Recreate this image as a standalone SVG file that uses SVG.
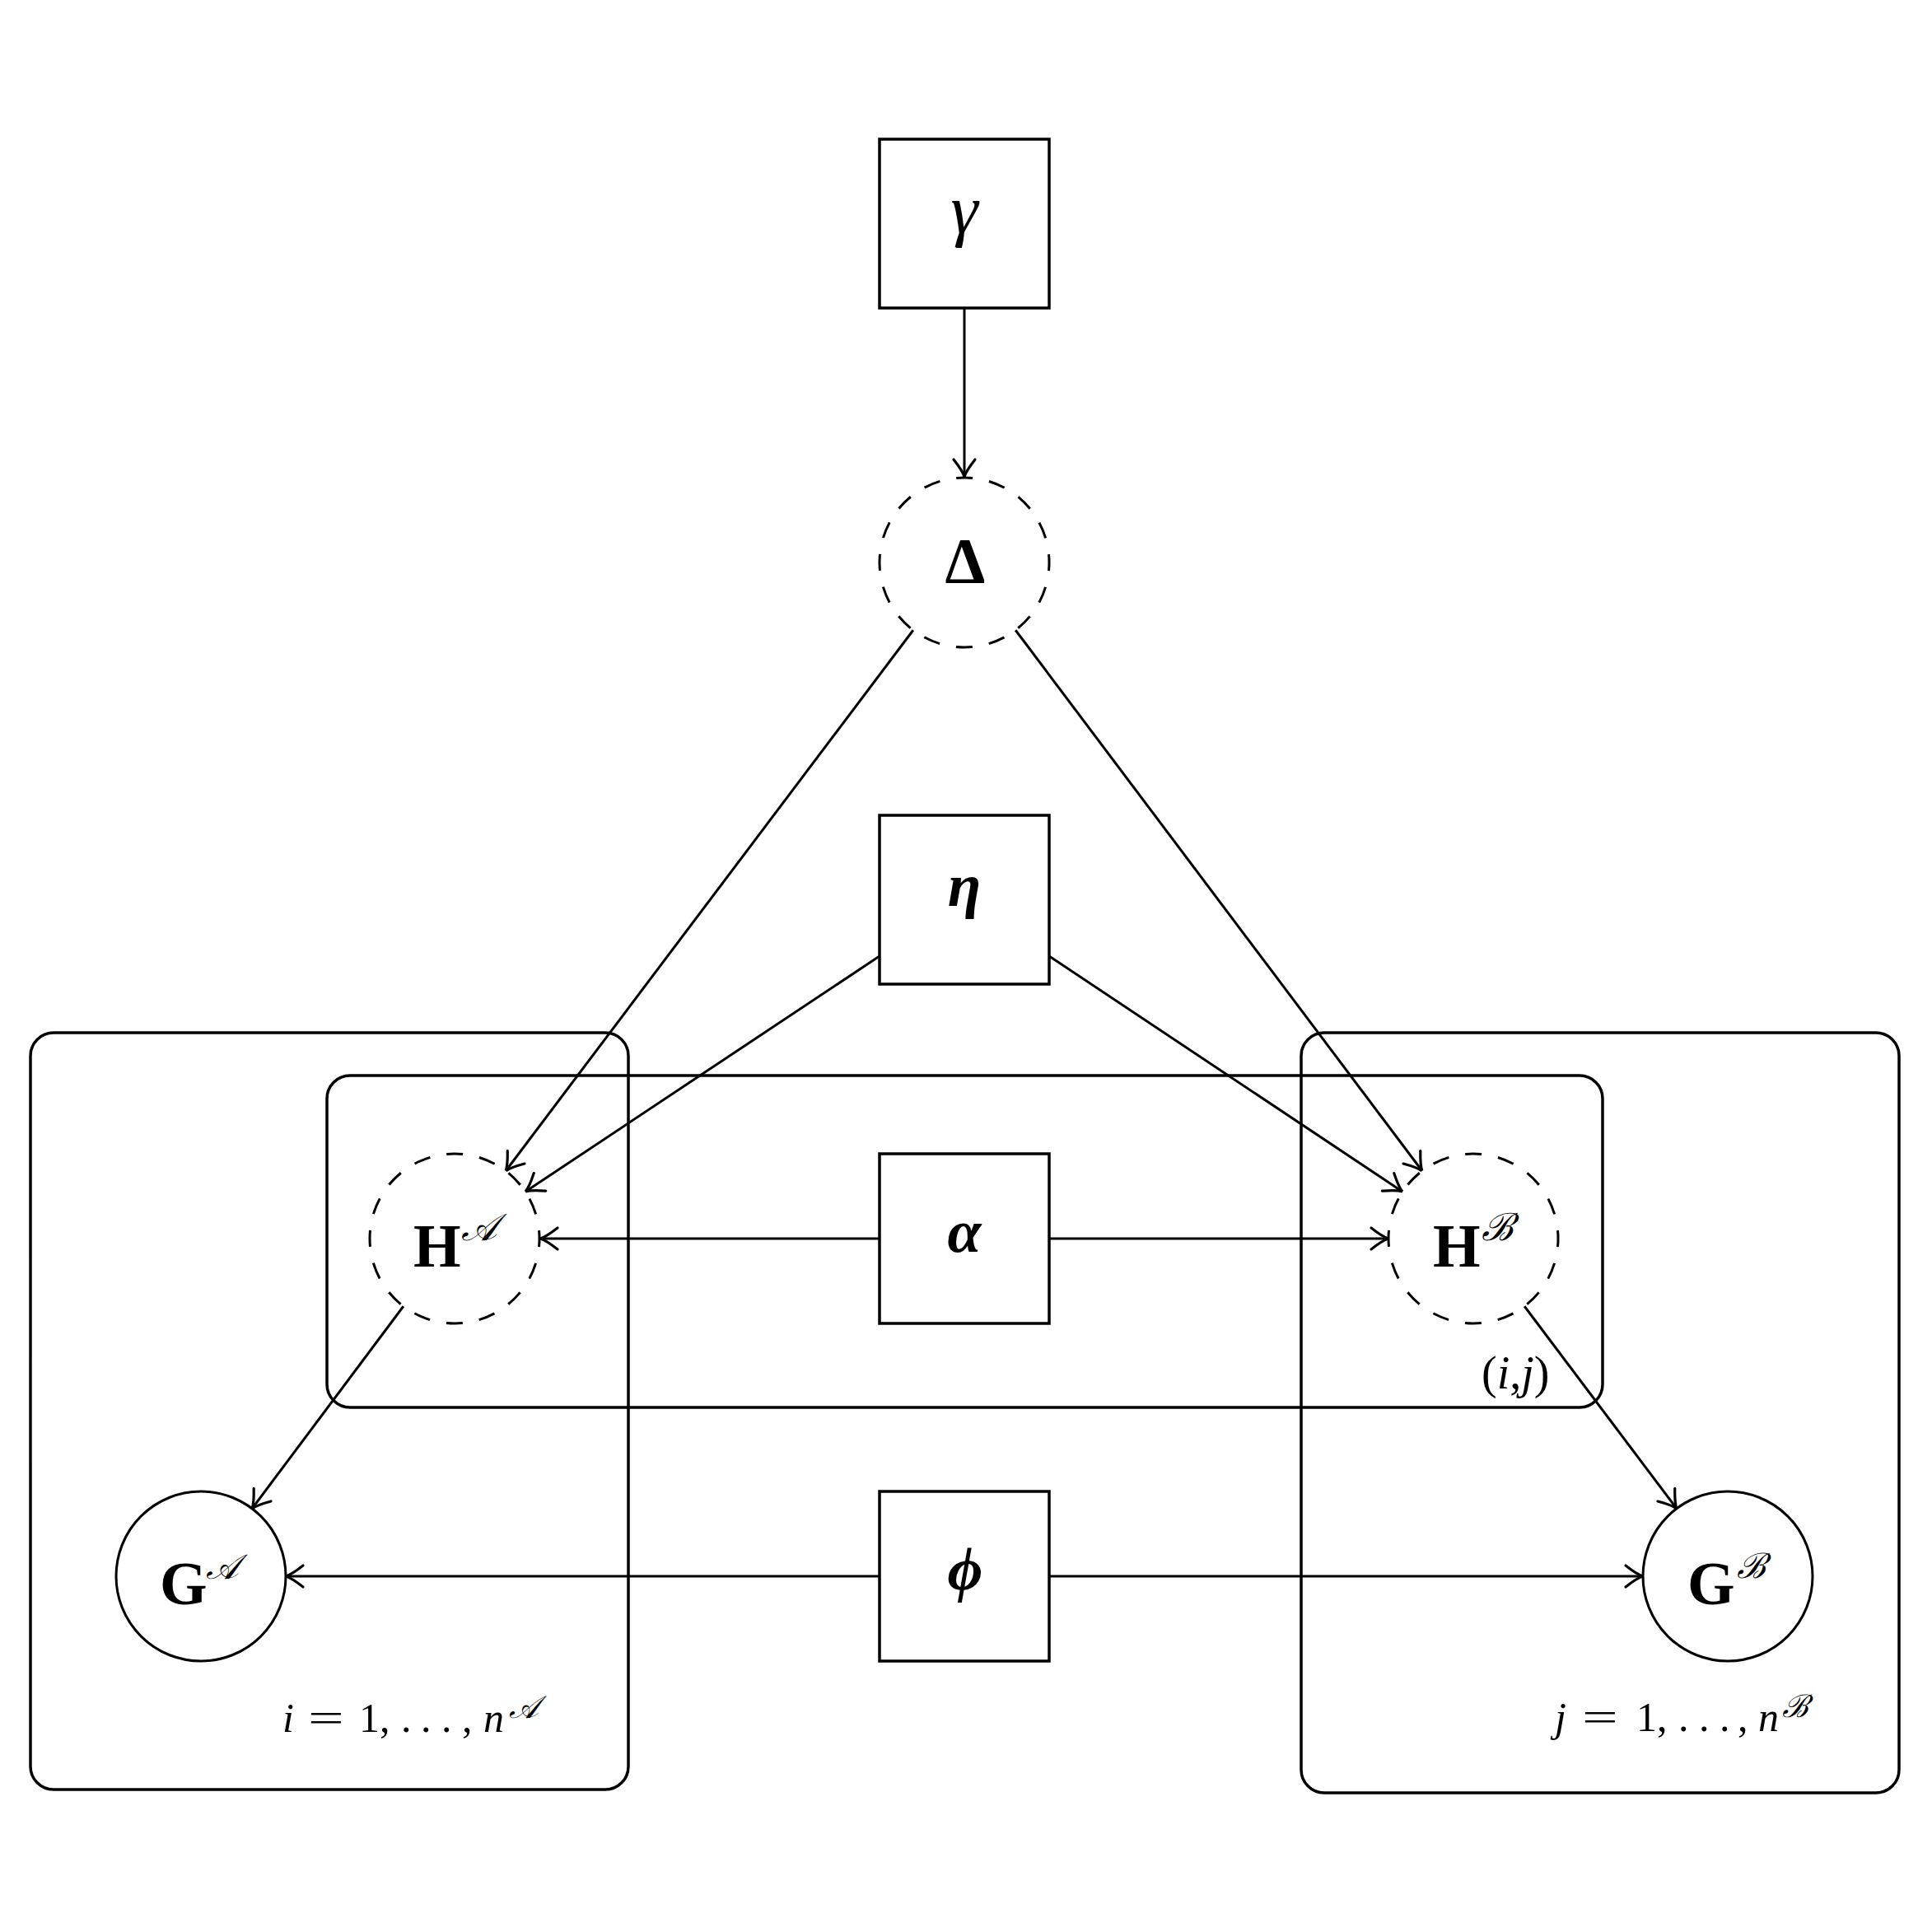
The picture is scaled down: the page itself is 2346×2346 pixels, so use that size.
<svg xmlns="http://www.w3.org/2000/svg" width="2346" height="2346" viewBox="0 0 2346 2346">
<style>
.plate{fill:none;stroke:#000;stroke-width:3.5}
.box{fill:#fff;stroke:#000;stroke-width:3.5}
.obs{fill:#fff;stroke:#000;stroke-width:3}
.lat{fill:#fff;stroke:#000;stroke-width:3;stroke-dasharray:20.2 20.2;stroke-dashoffset:10}
.edge{fill:none;stroke:#000;stroke-width:3;marker-end:url(#arr)}
.t{font-family:"Liberation Serif","DejaVu Serif",serif;fill:#000}
.bf{font-weight:bold}
.it{font-style:italic}
.up{font-style:normal}
</style>
<defs>
<marker id="arr" markerUnits="userSpaceOnUse" markerWidth="34" markerHeight="34" viewBox="-26 -17 30 34" refX="0" refY="0" orient="auto">
<path d="M-21,-13 Q-7,-2 0,0 Q-7,2 -21,13" fill="none" stroke="#000" stroke-width="3.2" stroke-linecap="round"/>
</marker>
</defs>
<rect width="2346" height="2346" fill="#fff"/>
<g id="plates">
<rect id="plate-i" class="plate" x="37" y="1254" width="726" height="919" rx="28"/>
<rect id="plate-ij" class="plate" x="397" y="1306" width="1549" height="403" rx="28"/>
<rect id="plate-j" class="plate" x="1580" y="1254" width="726" height="923" rx="28"/>
<g id="label-i">
<text class="t it" y="2103" font-size="50"><tspan x="343">i</tspan><tspan class="up" x="436">1,</tspan><tspan class="up" x="487">.</tspan><tspan class="up" x="511">.</tspan><tspan class="up" x="536">.</tspan><tspan class="up" x="561">,</tspan><tspan x="587">n</tspan><tspan x="618" y="2086" font-size="38">𝒜</tspan></text>
<text class="t" transform="translate(374 2103) scale(1.55 1)" font-size="50">=</text>
</g>
<g id="label-j">
<text class="t it" y="2102" font-size="50"><tspan x="1888">j</tspan><tspan class="up" x="1987">1,</tspan><tspan class="up" x="2038">.</tspan><tspan class="up" x="2063">.</tspan><tspan class="up" x="2088">.</tspan><tspan class="up" x="2110">,</tspan><tspan x="2135">n</tspan><tspan x="2164" y="2085" font-size="38">ℬ</tspan></text>
<text class="t" transform="translate(1921 2102) scale(1.55 1)" font-size="50">=</text>
</g>
<text id="label-ij" class="t" x="1799" y="1686" font-size="56">(<tspan font-style="italic">i</tspan>,<tspan font-style="italic">j</tspan>)</text>
</g>
<g id="connectors">
<line class="edge" x1="1171" y1="374" x2="1171" y2="579"/>
<line class="edge" x1="1109" y1="765" x2="614" y2="1422"/>
<line class="edge" x1="1233" y1="765" x2="1727" y2="1422"/>
<line class="edge" x1="1068" y1="1161" x2="638" y2="1447"/>
<line class="edge" x1="1274" y1="1161" x2="1703" y2="1447"/>
<line class="edge" x1="1068" y1="1504" x2="656" y2="1504"/>
<line class="edge" x1="1274" y1="1504" x2="1686" y2="1504"/>
<line class="edge" x1="490" y1="1586" x2="306" y2="1832"/>
<line class="edge" x1="1851" y1="1586" x2="2036" y2="1832"/>
<line class="edge" x1="1068" y1="1914" x2="347" y2="1914"/>
<line class="edge" x1="1274" y1="1914" x2="1995" y2="1914"/>
</g>
<g id="gamma">
<rect class="box" x="1068" y="169" width="206" height="205"/>
<text class="t it" x="1171" y="283" font-size="84" text-anchor="middle">γ</text>
</g>
<g id="Delta">
<circle class="lat" cx="1171" cy="683" r="103"/>
<text class="t bf" x="1172" y="707" font-size="78" text-anchor="middle">Δ</text>
</g>
<g id="eta">
<rect class="box" x="1068" y="990" width="206" height="205"/>
<text class="t bf it" x="1171" y="1100" font-size="74" text-anchor="middle">η</text>
</g>
<g id="alpha">
<rect class="box" x="1068" y="1401" width="206" height="206"/>
<text class="t bf it" x="1171" y="1520" font-size="74" text-anchor="middle">α</text>
</g>
<g id="phi">
<rect class="box" x="1068" y="1811" width="206" height="206"/>
<text class="t bf it" x="1172" y="1930" font-size="74" text-anchor="middle">ϕ</text>
</g>
<g id="HA">
<circle class="lat" cx="552" cy="1504" r="103"/>
<text class="t bf" x="502" y="1538" font-size="74">H</text>
<text class="t it" x="560" y="1506" font-size="46">𝒜</text>
</g>
<g id="HB">
<circle class="lat" cx="1789" cy="1504" r="103"/>
<text class="t bf" x="1740" y="1538" font-size="74">H</text>
<text class="t it" x="1799" y="1506" font-size="46">ℬ</text>
</g>
<g id="GA">
<circle class="obs" cx="244" cy="1914" r="103"/>
<text class="t bf" x="194" y="1948" font-size="74">G</text>
<text class="t it" x="250" y="1917" font-size="42">𝒜</text>
</g>
<g id="GB">
<circle class="obs" cx="2098" cy="1914" r="103"/>
<text class="t bf" x="2049" y="1948" font-size="74">G</text>
<text class="t it" x="2109" y="1916" font-size="42">ℬ</text>
</g>
</svg>
